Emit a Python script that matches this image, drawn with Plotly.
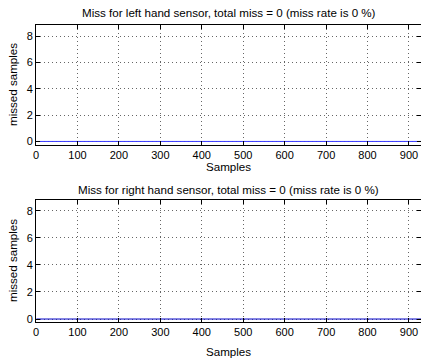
import plotly.graph_objects as go

n_samples = 929
samples = list(range(1, n_samples + 1))
left_miss = [0] * n_samples
right_miss = [0] * n_samples

left_title = "Miss for left hand sensor, total miss = 0 (miss rate is 0 %)"
right_title = "Miss for right hand sensor, total miss = 0 (miss rate is 0 %)"
x_ticks = [0, 100, 200, 300, 400, 500, 600, 700, 800, 900]
y_ticks = [0, 2, 4, 6, 8]

W, H = 421, 360
font = dict(family="Liberation Sans, Arial, sans-serif", size=11, color="black")
title_font = dict(family="Liberation Sans, Arial, sans-serif", size=11.6, color="black")

fig = go.Figure()
fig.add_trace(go.Scatter(x=samples, y=left_miss, mode="lines",
                         line=dict(color="#3a3aff", width=1), xaxis="x", yaxis="y"))
fig.add_trace(go.Scatter(x=samples, y=right_miss, mode="lines",
                         line=dict(color="#0000c8", width=1), xaxis="x2", yaxis="y2"))

x_left = 36 / W
top_dom = [1 - 145 / H, 1 - 25 / H]
bot_dom = [1 - 322 / H, 1 - 200 / H]

axis_common = dict(showline=True, linecolor="black", linewidth=1, mirror="ticks",
                   ticks="inside", ticklen=4, tickcolor="black", automargin=False,
                   showgrid=True, gridcolor="#666", gridwidth=1, griddash="1px,3px",
                   zeroline=False, tickfont=font)

fig.update_layout(
    width=W, height=H, margin=dict(l=0, r=0, t=0, b=0, autoexpand=False),
    paper_bgcolor="white", plot_bgcolor="white", showlegend=False,
    font=font,
    xaxis=dict(domain=[x_left, 1], anchor="y", range=[0, 929], tickvals=x_ticks, **axis_common),
    yaxis=dict(domain=top_dom, anchor="x", range=[-0.27, 8.85], tickvals=y_ticks, **axis_common),
    xaxis2=dict(domain=[x_left, 1], anchor="y2", range=[0, 929], tickvals=x_ticks, **axis_common),
    yaxis2=dict(domain=bot_dom, anchor="x2", range=[-0.22, 8.8], tickvals=y_ticks, **axis_common),
)

cx = (x_left + 1) / 2
ann = []
ann.append(dict(text=left_title, x=cx, y=1 - 13 / H, xref="paper", yref="paper",
                showarrow=False, font=title_font, xanchor="center", yanchor="middle"))
ann.append(dict(text=right_title, x=cx, y=1 - 189 / H, xref="paper", yref="paper",
                showarrow=False, font=title_font, xanchor="center", yanchor="middle"))
ann.append(dict(text="Samples", x=cx, y=1 - 166 / H, xref="paper", yref="paper",
                showarrow=False, font=title_font, xanchor="center", yanchor="middle"))
ann.append(dict(text="Samples", x=cx, y=1 - 351 / H, xref="paper", yref="paper",
                showarrow=False, font=title_font, xanchor="center", yanchor="middle"))
ann.append(dict(text="missed samples", x=12 / W, y=sum(top_dom) / 2, xref="paper", yref="paper",
                showarrow=False, font=title_font, textangle=-90, xanchor="center", yanchor="middle"))
ann.append(dict(text="missed samples", x=12 / W, y=sum(bot_dom) / 2, xref="paper", yref="paper",
                showarrow=False, font=title_font, textangle=-90, xanchor="center", yanchor="middle"))
fig.update_layout(annotations=ann)

fig.write_html("out.html", config={"displayModeBar": False},
               post_script="document.body.style.margin='0';document.body.style.overflow='hidden';")
